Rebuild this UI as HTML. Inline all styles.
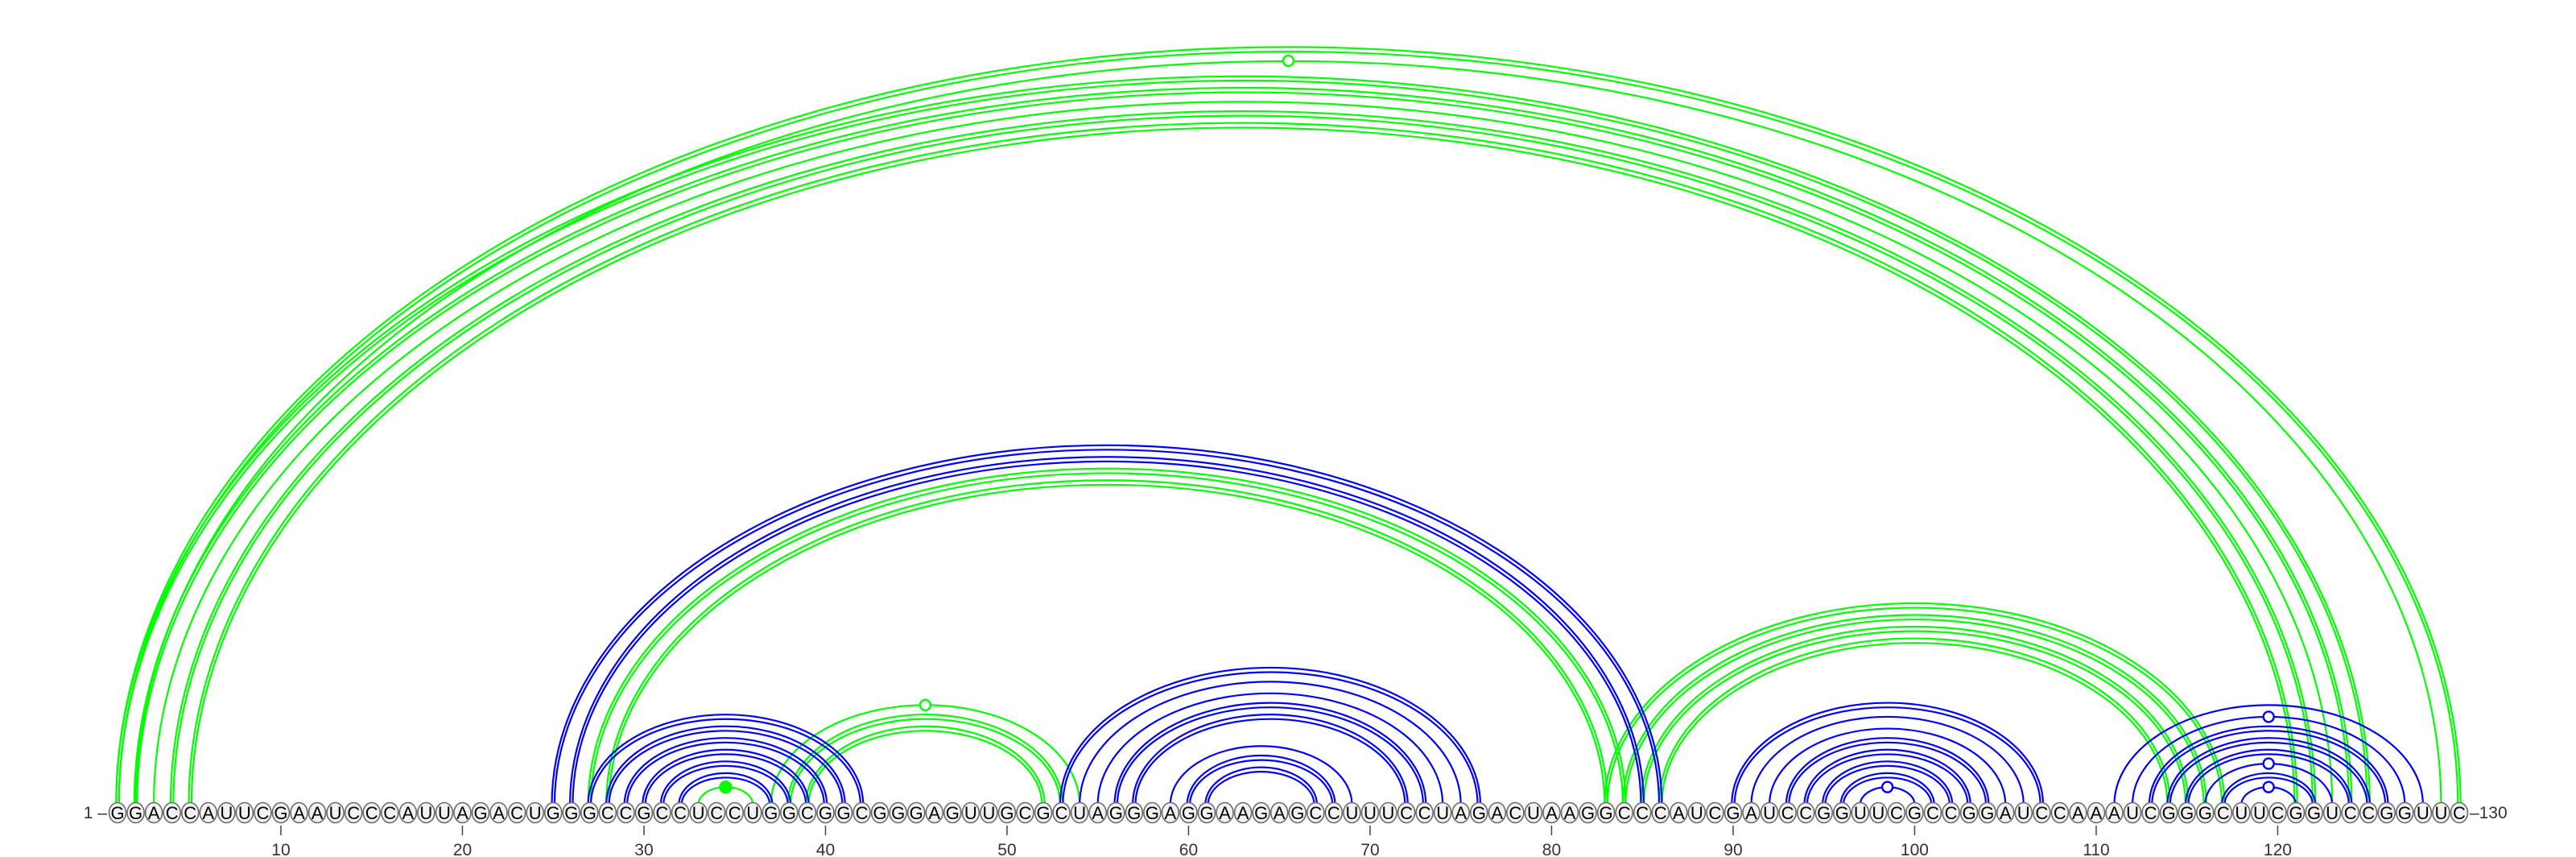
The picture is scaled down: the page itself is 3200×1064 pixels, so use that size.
<!DOCTYPE html>
<html><head><meta charset="utf-8"><style>
html,body{margin:0;padding:0;background:#fff;}
svg{display:block;}
</style></head>
<body>
<svg id="chart" width="3200" height="1064" xmlns="http://www.w3.org/2000/svg"></svg>
<script>
const sequence = "GGACCAUUCGAAUCCCAUUAGACUGGGCCGCCUCCUGGCGGCGGGAGUUGCGCUAGGGAGGAAGAGCCUUUCCUAGACUAAGGCCCAUCGAUCCGGUUCGCCGGAUCCAAAUCGGGCUUCGGUCCGGUUC";
const tickValues = [10,20,30,40,50,60,70,80,90,100,110,120];
const blueI = [25,26,27,28,29,30,31,32,53,54,55,56,57,59,60,61,90,91,92,93,94,95,96,97,111,112,113,114,115,116,117,118];
const blueJ = [86,85,42,41,40,39,38,37,76,75,74,73,72,69,68,67,107,106,105,104,103,102,101,100,128,127,126,125,124,123,122,121];
const blueDouble = [1,1,1,1,1,1,1,1,1,0,0,1,1,0,1,1,1,0,0,1,1,1,1,0,0,0,1,1,1,0,1,0];
const blueMarker = [0,0,0,0,0,0,0,0,0,0,0,0,0,0,0,0,0,0,0,0,0,0,0,1,0,1,0,0,0,1,0,1];
const greenI = [1,2,1,2,3,4,5,27,28,33,37,38,39,83,84,85,86];
const greenJ = [130,129,125,124,123,122,121,84,83,36,54,53,52,117,116,115,114];
const greenDouble = [1,0,1,1,0,1,1,1,1,0,0,1,1,1,1,1,1];
const greenMarker = [0,1,0,0,0,0,0,0,0,2,1,0,0,0,0,0,0];

const NS = "http://www.w3.org/2000/svg";
const svg = document.getElementById('chart');
const x0 = 146, step = 22.55, baseY = 999, ratio = 0.645, cy = 1009;
function xPos(i){ return x0 + (i-1)*step; }
function mk(tag, attrs, parent){
  const e = document.createElementNS(NS, tag);
  for (const k in attrs) e.setAttribute(k, attrs[k]);
  (parent||svg).appendChild(e);
  return e;
}
function arcPath(i, j, off){
  const a = xPos(i) - off, b = xPos(j) + off;
  const rx = (b - a)/2, ry = rx*ratio + off;
  return `M${a},${baseY} A${rx},${ry} 0 0 1 ${b},${baseY}`;
}
function drawArcs(I, J, D, M, color, name){
  const g = mk('g', {});
  
  
  for (let k=0;k<I.length;k++){
    const offs = D[k] ? [-1.7, 1.7] : [0];
    for (const o of offs){
      const p = mk('path', {d: arcPath(I[k], J[k], o), fill:'none', stroke: color, 'stroke-width': 2.2}, g);
      
      
    }
    if (M[k]){
      const a = xPos(I[k]), b = xPos(J[k]);
      const rx = (b-a)/2, ry = rx*ratio;
      const c = mk('circle', {cx:(a+b)/2, cy: baseY - ry, r: M[k]===2 ? 7 : 6.5,
        fill: M[k]===2 ? color : '#fff', stroke: color, 'stroke-width': 2.4}, g);
      
      
    }
  }
}
drawArcs(greenI, greenJ, greenDouble, greenMarker, '#00ff00', 'green');
drawArcs(blueI, blueJ, blueDouble, blueMarker, '#0000ff', 'blue');

for (let i=1;i<=sequence.length;i++){
  const g = mk('g', {});
  
  
  mk('ellipse', {cx:xPos(i), cy:cy, rx:10.5, ry:12.5, fill:'#f2f2f2', stroke:'#6b6b6b', 'stroke-width':1.6}, g);
  const t = mk('text', {x:xPos(i), y:cy+8, 'text-anchor':'middle', 'font-family':'"Liberation Sans", sans-serif', 'font-size':22, fill:'#000'}, g);
  t.textContent = sequence[i-1];
}
for (const v of tickValues){
  const l = mk('line', {x1:xPos(v), x2:xPos(v), y1:1025, y2:1037, stroke:'#444', 'stroke-width':1.5});
  
  
  const t = mk('text', {x:xPos(v), y:1062, 'text-anchor':'middle', 'font-family':'"Liberation Sans", sans-serif', 'font-size':21, fill:'#333'});
  
  
  t.textContent = v;
}
const s = mk('text', {x:133, y:1016, 'text-anchor':'end', 'font-family':'"Liberation Sans", sans-serif', 'font-size':21, fill:'#333'});


s.textContent = '1 \u2013';
const e = mk('text', {x:xPos(130)+13, y:1016, 'text-anchor':'start', 'font-family':'"Liberation Sans", sans-serif', 'font-size':21, fill:'#333'});


e.textContent = '\u2013130';
</script>
</body></html>
